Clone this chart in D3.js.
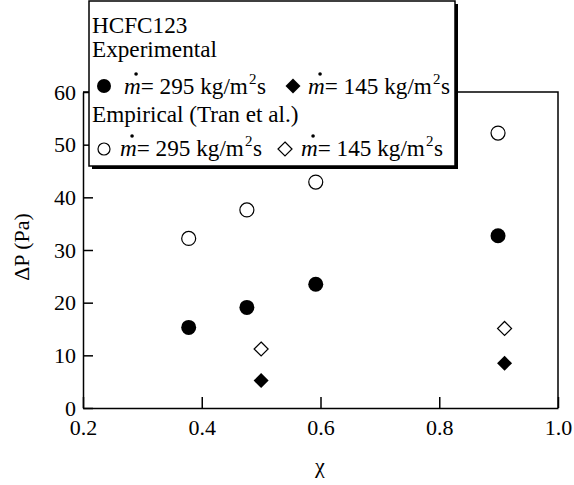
<!DOCTYPE html>
<html>
<head>
<meta charset="utf-8">
<script src="https://cdn.jsdelivr.net/npm/d3@7"></script>
<style>
  body { margin: 0; background: #fff; }
  text { font-family: "Liberation Serif", "Times New Roman", serif; fill: #000; }
</style>
</head>
<body>
<script>
// quality values and pressure drop
var xTicks = [0.2, 0.4, 0.6, 0.8, 1.0];
var yTicks = [0, 10, 20, 30, 40, 50, 60];

var exp295X = [0.378, 0.476, 0.592, 0.899];
var exp295Y = [15.3, 19.1, 23.5, 32.7];
var exp145X = [0.500, 0.910];
var exp145Y = [5.2, 8.5];
var emp295X = [0.378, 0.476, 0.592, 0.899];
var emp295Y = [32.2, 37.6, 42.9, 52.2];
var emp145X = [0.500, 0.910];
var emp145Y = [11.2, 15.1];

var width = 574, height = 485;
var fontSize = 22;
var legendFont = 23.2;

var svg = d3.select("body").append("svg")
    .attr("width", width)
    .attr("height", height);

var xScale = d3.scaleLinear().domain([0.2, 1.0]).range([83, 558]);
var yScale = d3.scaleLinear().domain([0, 60]).range([408, 92]);

/* frame on top and right */
svg.append("path")
    .attr("d", "M" + xScale(0.2) + "," + yScale(60) + "H" + xScale(1.0) + "V" + yScale(0))
    .attr("fill", "none")
    .attr("stroke", "#000")
    .attr("stroke-width", 1.5);

/* axes with inward ticks */
var xAxis = d3.axisBottom(xScale)
    .tickValues(xTicks)
    .tickFormat(d3.format(".1f"))
    .tickSizeInner(-11)
    .tickSizeOuter(0)
    .tickPadding(11);

var yAxis = d3.axisLeft(yScale)
    .tickValues(yTicks)
    .tickFormat(d3.format("d"))
    .tickSizeInner(-10)
    .tickSizeOuter(0)
    .tickPadding(7);

var gx = svg.append("g")
    .attr("transform", "translate(0," + yScale(0) + ")")
    .call(xAxis);
var gy = svg.append("g")
    .attr("transform", "translate(" + xScale(0.2) + ",0)")
    .call(yAxis);

[gx, gy].forEach(function(g) {
    g.selectAll("path, line").attr("stroke", "#000").attr("stroke-width", 1.5);
    g.selectAll("text")
        .attr("font-family", "Liberation Serif, serif")
        .attr("font-size", fontSize)
        .attr("fill", "#000");
});

/* axis titles */
svg.append("text")
    .attr("x", 320)
    .attr("y", 473)
    .attr("text-anchor", "middle")
    .attr("font-size", fontSize)
    .text("χ");

svg.append("text")
    .attr("transform", "translate(29,247) rotate(-90)")
    .attr("text-anchor", "middle")
    .attr("font-size", fontSize)
    .text("ΔP (Pa)");

/* markers */
function circleMark(g, cx, cy, r, filled) {
    g.append("circle")
        .attr("cx", cx).attr("cy", cy).attr("r", r)
        .attr("fill", filled ? "#000" : "#fff")
        .attr("stroke", "#000")
        .attr("stroke-width", filled ? 0 : 1.2);
}
function diamondMark(g, cx, cy, r, filled) {
    g.append("path")
        .attr("d", "M" + cx + "," + (cy - r) + "L" + (cx + r) + "," + cy +
                   "L" + cx + "," + (cy + r) + "L" + (cx - r) + "," + cy + "Z")
        .attr("fill", filled ? "#000" : "#fff")
        .attr("stroke", "#000")
        .attr("stroke-width", filled ? 0 : 1.2);
}

var points = svg.append("g");
emp295X.forEach(function(x, i) { circleMark(points, xScale(x), yScale(emp295Y[i]), 7, false); });
exp295X.forEach(function(x, i) { circleMark(points, xScale(x), yScale(exp295Y[i]), 7.5, true); });
emp145X.forEach(function(x, i) { diamondMark(points, xScale(x), yScale(emp145Y[i]), 7, false); });
exp145X.forEach(function(x, i) { diamondMark(points, xScale(x), yScale(exp145Y[i]), 7.5, true); });

/* legend box with drop shadow */
var legend = svg.append("g");
legend.append("rect")
    .attr("x", 92).attr("y", 4).attr("width", 366).attr("height", 165)
    .attr("fill", "#000");
legend.append("rect")
    .attr("x", 89).attr("y", 1).attr("width", 366).attr("height", 165)
    .attr("fill", "#fff")
    .attr("stroke", "#000")
    .attr("stroke-width", 1.5);

legend.append("text").attr("x", 92).attr("y", 33).attr("font-size", legendFont).text("HCFC123");
legend.append("text").attr("x", 92).attr("y", 57).attr("font-size", legendFont).text("Experimental");
legend.append("text").attr("x", 92).attr("y", 122).attr("font-size", legendFont).text("Empirical (Tran et al.)");

// one "m-dot = NNN kg/m^2 s" label
function flowLabel(x, y, value) {
    var m = legend.append("text")
        .attr("x", x).attr("y", y)
        .attr("font-size", legendFont)
        .attr("font-style", "italic")
        .text("m");
    var mw = m.node().getComputedTextLength();
    legend.append("circle")
        .attr("cx", x + mw * 0.72).attr("cy", y - 20).attr("r", 1.8)
        .attr("fill", "#000");
    var t = legend.append("text")
        .attr("x", x + mw).attr("y", y)
        .attr("font-size", legendFont);
    t.append("tspan").text("= " + value + " kg/m");
    t.append("tspan").attr("font-size", 15).attr("dx", 1).attr("dy", -10).text("2");
    t.append("tspan").attr("dx", 0.5).attr("dy", 10).text("s");
}

circleMark(legend, 104, 86, 7, true);
flowLabel(124, 94, 295);
diamondMark(legend, 293, 86, 7.5, true);
flowLabel(308, 94, 145);

circleMark(legend, 104, 149, 6, false);
flowLabel(120, 156, 295);
diamondMark(legend, 285, 149, 7, false);
flowLabel(301, 156, 145);
</script>
</body>
</html>
